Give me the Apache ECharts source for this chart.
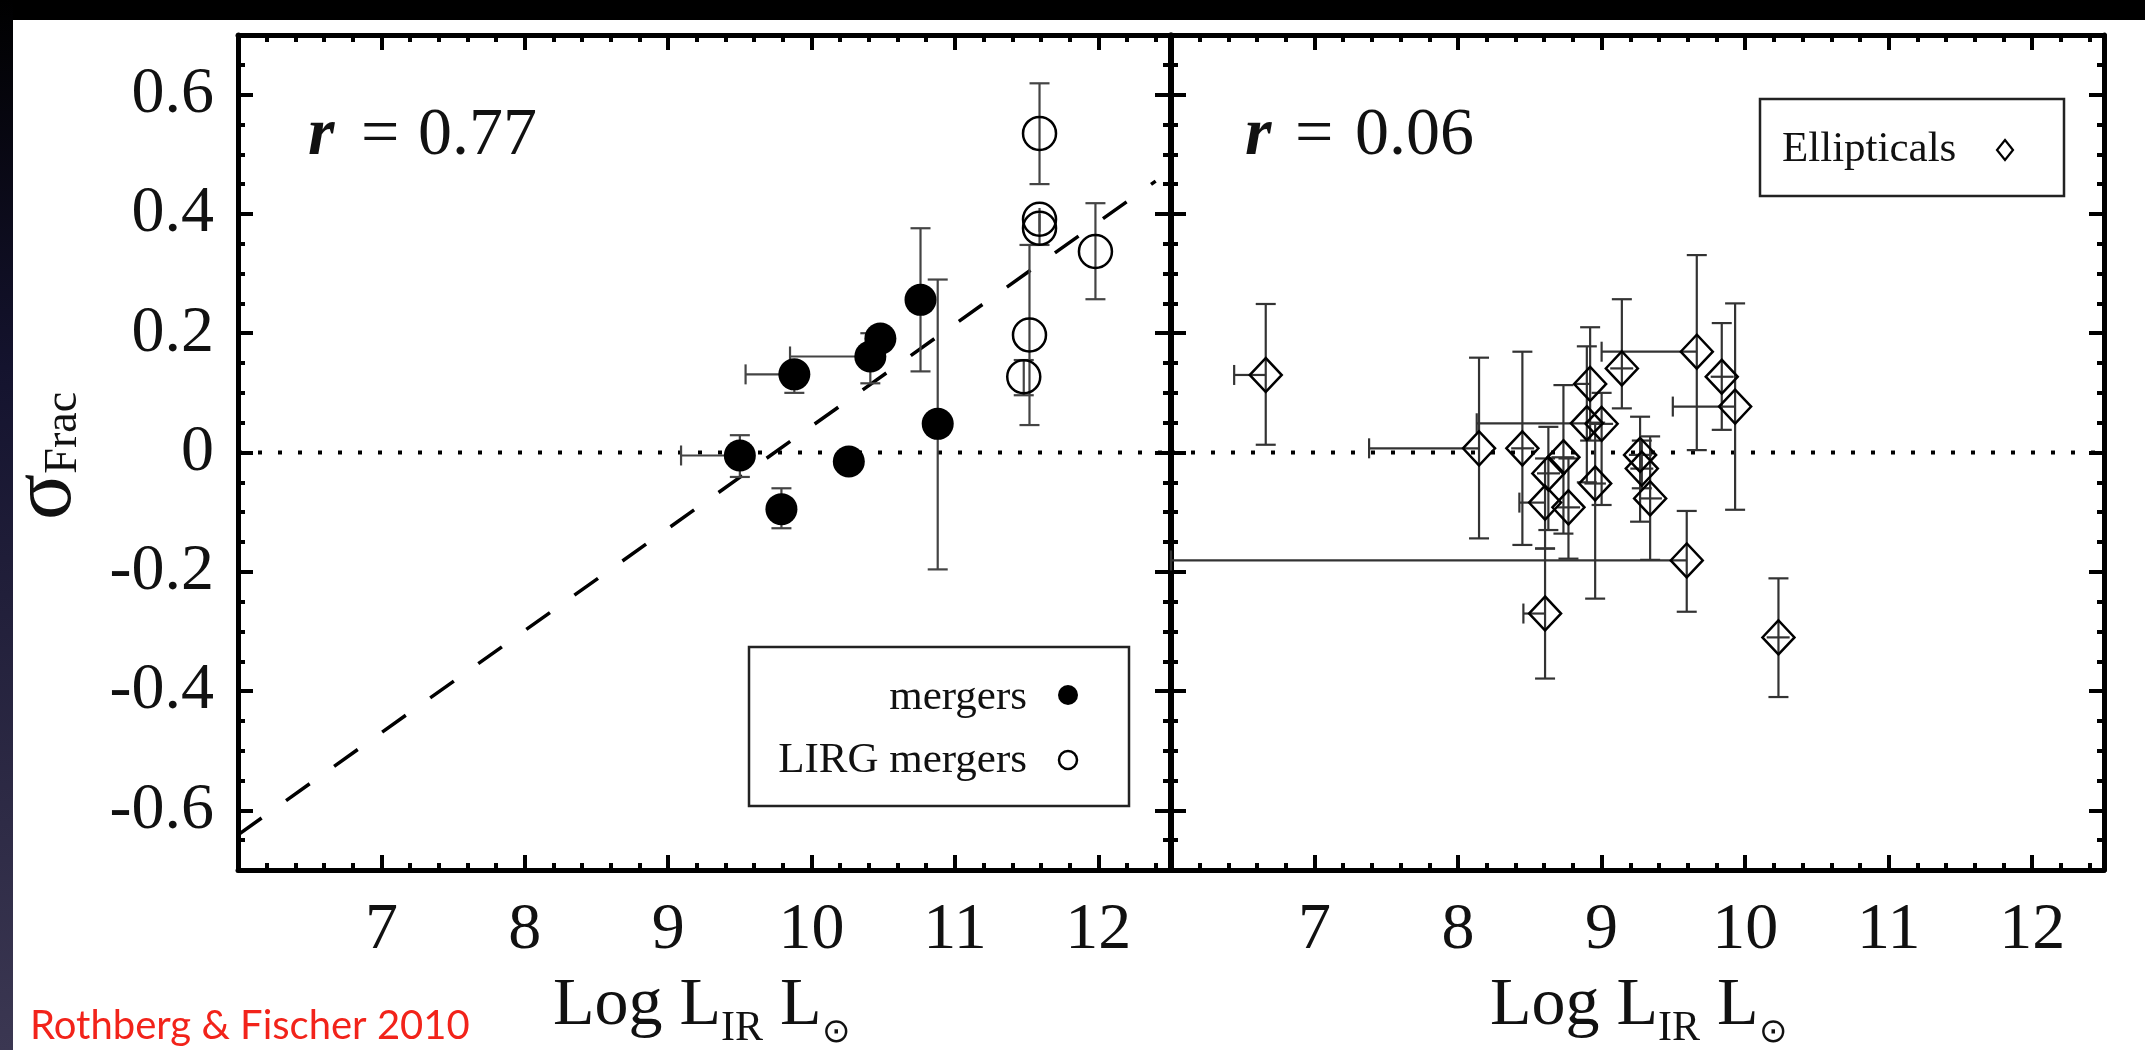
<!DOCTYPE html>
<html>
<head>
<meta charset="utf-8">
<script src="https://cdn.jsdelivr.net/npm/echarts@6/dist/echarts.min.js"></script>
<style>
  html, body { margin: 0; padding: 0; background: #fff; }
  #chart { width: 2145px; height: 1050px; }
</style>
</head>
<body>
<div id="chart"></div>
<script>
// ---- axis ranges and tick labels ----
const X_MIN = 6, X_MAX = 12.5, Y_MIN = -0.7, Y_MAX = 0.7;
const xTickLabels = [7, 8, 9, 10, 11, 12];
const yTickLabels = [-0.6, -0.4, -0.2, 0, 0.2, 0.4, 0.6];

// ---- mergers (filled circles) ----
const mergersX     = [9.50, 9.79, 9.88, 10.41, 10.48, 10.76, 10.26, 10.88];
const mergersY     = [-0.005, -0.095, 0.131, 0.161, 0.191, 0.256, -0.015, 0.048];
const mergersYLow  = [-0.041, -0.127, 0.100, 0.116, 0.170, 0.136, -0.035, -0.196];
const mergersYHigh = [0.029, -0.060, 0.150, 0.200, 0.210, 0.376, 0.005, 0.290];
const mergersXLow  = [9.09, null, 9.54, 9.85, null, null, null, null];
const mergersXHigh = [null, null, null, null, null, null, null, null];

// ---- LIRG mergers (open circles) ----
const lirgX     = [11.59, 11.59, 11.59, 11.98, 11.52, 11.48];
const lirgY     = [0.535, 0.391, 0.376, 0.337, 0.197, 0.127];
const lirgYLow  = [0.450, 0.370, 0.348, 0.257, 0.046, 0.096];
const lirgYHigh = [0.619, 0.410, 0.400, 0.418, 0.348, 0.155];

// ---- ellipticals (open diamonds) ----
const ellX     = [6.66, 8.146, 8.448, 8.734, 8.629, 8.606, 8.769, 8.920, 9.141, 9.663, 9.837,
                  9.930, 8.897, 9.000, 8.955, 9.268, 9.280, 9.338, 9.593, 8.606, 10.232];
const ellY     = [0.130, 0.007, 0.007, -0.008, -0.035, -0.084, -0.092, 0.115, 0.141, 0.169, 0.127,
                  0.077, 0.049, 0.048, -0.052, -0.004, -0.027, -0.077, -0.181, -0.270, -0.310];
const ellYLow  = [0.013, -0.144, -0.155, -0.136, -0.130, -0.161, -0.178, 0.020, 0.074, 0.004, 0.038,
                  -0.096, -0.050, -0.088, -0.245, -0.116, -0.060, -0.180, -0.267, -0.379, -0.410];
const ellYHigh = [0.249, 0.159, 0.169, 0.113, 0.043, -0.010, -0.010, 0.210, 0.257, 0.331, 0.217,
                  0.250, 0.178, 0.100, 0.050, 0.060, 0.020, 0.027, -0.098, -0.161, -0.211];
const ellXLow  = [6.44, 7.38, 8.37, 8.65, 8.55, 8.427, 8.69, 8.816, 9.06, 9.00, 9.76,
                  9.496, 8.13, 8.92, 8.88, 9.19, 9.20, 9.26, 6.00, 8.455, 10.15];
const ellXHigh = [null, null, 8.53, 8.81, 8.71, null, 8.85, null, 9.22, null, 9.92,
                  null, null, 9.08, 9.03, 9.35, 9.36, 9.42, null, null, 10.31];

// ---- reference lines ----
const zeroLineX = [6, 12.5];
const fitLineX = [6.0, 12.4];
const fitLineY = [-0.641, 0.455];

// ---- derived tick positions ----
const xMinorTicks = [];
for (let i = 1; i < 33; i++) {
  const v = +(X_MIN + i * 0.2).toFixed(2);
  if (Math.abs(v - Math.round(v)) > 1e-6) xMinorTicks.push(v);
}
const yMinorTicks = [];
for (let i = -13; i <= 13; i++) {
  if (i % 4 !== 0) yMinorTicks.push(+(i * 0.05).toFixed(2));
}

const SERIF = '"Liberation Serif", "Times New Roman", serif';

function rows(xs, ys, xl, xh, yl, yh) {
  return xs.map((x, i) => [
    x, ys[i],
    xl && xl[i] != null ? xl[i] : x,
    xh && xh[i] != null ? xh[i] : x,
    yl && yl[i] != null ? yl[i] : ys[i],
    yh && yh[i] != null ? yh[i] : ys[i]
  ]);
}

// ---- frame axes: thick box with inward major/minor ticks on all sides ----
const frameLine = { show: true, onZero: false, lineStyle: { color: '#000', width: 5 } };
function majorTick(vals) {
  return { show: true, inside: true, length: 15, customValues: vals, lineStyle: { color: '#000', width: 4 } };
}
function minorTick(vals) {
  return { show: true, inside: true, length: 7, customValues: vals, lineStyle: { color: '#000', width: 4 } };
}
function xAxesFor(grid) {
  const base = { gridIndex: grid, type: 'value', min: X_MIN, max: X_MAX, splitLine: { show: false }, axisPointer: { show: false } };
  return [
    Object.assign({}, base, {
      position: 'bottom', axisLine: frameLine, axisTick: majorTick(xTickLabels),
      axisLabel: { show: true, customValues: xTickLabels, fontFamily: SERIF, fontSize: 66, color: '#111', margin: 28 }
    }),
    Object.assign({}, base, { position: 'bottom', axisLine: { show: false, onZero: false }, axisTick: minorTick(xMinorTicks), axisLabel: { show: false } }),
    Object.assign({}, base, { position: 'top', axisLine: frameLine, axisTick: majorTick(xTickLabels), axisLabel: { show: false } }),
    Object.assign({}, base, { position: 'top', axisLine: { show: false, onZero: false }, axisTick: minorTick(xMinorTicks), axisLabel: { show: false } })
  ];
}
function yAxesFor(grid, labels) {
  const base = { gridIndex: grid, type: 'value', min: Y_MIN, max: Y_MAX, splitLine: { show: false }, axisPointer: { show: false } };
  return [
    Object.assign({}, base, {
      position: 'left', axisLine: frameLine, axisTick: majorTick(yTickLabels),
      axisLabel: labels
        ? { show: true, customValues: yTickLabels, fontFamily: SERIF, fontSize: 66, color: '#111', margin: 24,
            formatter: v => String(Math.round(v * 10) / 10) }
        : { show: false }
    }),
    Object.assign({}, base, { position: 'left', axisLine: { show: false, onZero: false }, axisTick: minorTick(yMinorTicks), axisLabel: { show: false } }),
    Object.assign({}, base, { position: 'right', axisLine: frameLine, axisTick: majorTick(yTickLabels), axisLabel: { show: false } }),
    Object.assign({}, base, { position: 'right', axisLine: { show: false, onZero: false }, axisTick: minorTick(yMinorTicks), axisLabel: { show: false } })
  ];
}

// ---- error bars: [x, y, xLow, xHigh, yLow, yHigh] ----
function errorBars(markerHalf, color) {
  return function (params, api) {
    const c = api.coord([api.value(0), api.value(1)]);
    const pxl = api.coord([api.value(2), api.value(1)])[0];
    const pxh = api.coord([api.value(3), api.value(1)])[0];
    const pyl = api.coord([api.value(0), api.value(4)])[1];
    const pyh = api.coord([api.value(0), api.value(5)])[1];
    const cap = 10;
    const segs = [];
    if (Math.abs(pyl - pyh) > 0.5) {
      segs.push([c[0], pyl, c[0], pyh]);
      if (pyl - c[1] > markerHalf) segs.push([c[0] - cap, pyl, c[0] + cap, pyl]);
      if (c[1] - pyh > markerHalf) segs.push([c[0] - cap, pyh, c[0] + cap, pyh]);
    }
    if (Math.abs(pxh - pxl) > 0.5) {
      segs.push([pxl, c[1], pxh, c[1]]);
      if (c[0] - pxl > markerHalf) segs.push([pxl, c[1] - cap, pxl, c[1] + cap]);
      if (pxh - c[0] > markerHalf) segs.push([pxh, c[1] - cap, pxh, c[1] + cap]);
    }
    return {
      type: 'group',
      children: segs.map(s => ({
        type: 'line',
        shape: { x1: s[0], y1: s[1], x2: s[2], y2: s[3] },
        style: { stroke: color, lineWidth: 2.2 }
      }))
    };
  };
}

// ---- text helpers for labels with subscripts ----
const measureCtx = document.createElement('canvas').getContext('2d');
function fontStr(size, weight, style) {
  return (style || 'normal') + ' ' + (weight || 'normal') + ' ' + size + 'px ' + SERIF;
}
function textWidth(text, font) { measureCtx.font = font; return measureCtx.measureText(text).width; }
// pieces laid out left to right on a shared baseline; each may be shifted by dy
function textRun(x0, baseline, pieces, fill) {
  let x = x0;
  const out = [];
  pieces.forEach(p => {
    const font = fontStr(p.size, p.weight, p.style);
    if (p.at != null) x = x0 + p.at;
    out.push({
      type: 'text', x: x, y: baseline + (p.dy || 0) - 0.305 * p.size,
      style: { text: p.text, font: font, fill: fill || '#111', align: 'left', verticalAlign: 'middle' }
    });
    x += textWidth(p.text, font);
  });
  return out;
}

const xTitlePieces = [
  { text: 'Log ', size: 68 }, { text: 'L', size: 68 }, { text: 'IR', size: 42, dy: 15 },
  { text: ' L', size: 68 }, { text: '\u2299', size: 34, dy: 16 }
];

const graphics = [
  // page backdrop: black band along the top, dark strip down the left edge
  { type: 'rect', z: -10, shape: { x: 0, y: 0, width: 2145, height: 20 }, style: { fill: '#000' } },
  { type: 'rect', z: -10, shape: { x: 0, y: 0, width: 13, height: 1050 },
    style: { fill: new echarts.graphic.LinearGradient(0, 0, 0, 1, [
      { offset: 0, color: '#000000' }, { offset: 0.35, color: '#14132e' }, { offset: 1, color: '#3b3752' }]) } },

  // legend, left panel
  { type: 'rect', z: 50, shape: { x: 749, y: 647, width: 380, height: 159 },
    style: { fill: '#fff', stroke: '#222', lineWidth: 2.5 } },
  { type: 'text', z: 51, x: 1027, y: 711 - 0.305 * 43,
    style: { text: 'mergers', font: fontStr(43), fill: '#111', align: 'right', verticalAlign: 'middle' } },
  { type: 'text', z: 51, x: 1027, y: 774 - 0.305 * 43,
    style: { text: 'LIRG mergers', font: fontStr(43), fill: '#111', align: 'right', verticalAlign: 'middle' } },
  { type: 'circle', z: 51, shape: { cx: 1068, cy: 695, r: 10 }, style: { fill: '#000' } },
  { type: 'circle', z: 51, shape: { cx: 1068, cy: 760, r: 9 }, style: { fill: 'none', stroke: '#000', lineWidth: 2.5 } },

  // legend, right panel
  { type: 'rect', z: 50, shape: { x: 1760, y: 99, width: 304, height: 97 },
    style: { fill: '#fff', stroke: '#222', lineWidth: 2.5 } },
  { type: 'text', z: 51, x: 1782, y: 163 - 0.305 * 43,
    style: { text: 'Ellipticals', font: fontStr(43), fill: '#111', align: 'left', verticalAlign: 'middle' } },
  { type: 'polygon', z: 51, shape: { points: [[2005, 140], [2013, 150], [2005, 160], [1997, 150]] },
    style: { fill: 'none', stroke: '#000', lineWidth: 2.2 } },

  // correlation coefficients
  ...textRun(308, 157, [{ text: 'r', size: 68, weight: 'bold', style: 'italic' },
                        { text: '=', size: 68, at: 53 }, { text: '0.77', size: 68, at: 110 }]),
  ...textRun(1245, 157, [{ text: 'r', size: 68, weight: 'bold', style: 'italic' },
                         { text: '=', size: 68, at: 50 }, { text: '0.06', size: 68, at: 110 }]),

  // x-axis titles
  ...textRun(553, 1027, xTitlePieces),
  ...textRun(1490, 1027, xTitlePieces),

  // y-axis title, reading bottom to top
  { type: 'group', x: 74, y: 520, rotation: Math.PI / 2,
    children: textRun(0, 0, [{ text: '\u03c3', size: 86 }, { text: 'Frac', size: 46, dy: 4 }]) },

  // citation
  { type: 'text', x: 30, y: 1038 - 0.305 * 40,
    style: { text: 'Rothberg & Fischer 2010', font: '40px "Comic Sans MS", "Lato", sans-serif', fill: '#f2231a',
             align: 'left', verticalAlign: 'middle' } }
];

const chart = echarts.init(document.getElementById('chart'), null, { renderer: 'canvas' });
chart.setOption({
  backgroundColor: '#ffffff',
  animation: false,
  grid: [
    { left: 238, top: 35, width: 932, height: 835, containLabel: false },
    { left: 1171, top: 35, width: 933, height: 835, containLabel: false }
  ],
  xAxis: [...xAxesFor(0), ...xAxesFor(1)],
  yAxis: [...yAxesFor(0, true), ...yAxesFor(1, false)],
  graphic: graphics,
  series: [
    { type: 'line', xAxisIndex: 0, yAxisIndex: 0, data: zeroLineX.map(x => [x, 0]), symbol: 'none', silent: true,
      lineStyle: { color: '#000', width: 4, type: [4, 16], cap: 'butt' }, z: 1 },
    { type: 'line', xAxisIndex: 4, yAxisIndex: 4, data: zeroLineX.map(x => [x, 0]), symbol: 'none', silent: true,
      lineStyle: { color: '#000', width: 4, type: [4, 16], cap: 'butt' }, z: 1 },
    { type: 'line', xAxisIndex: 0, yAxisIndex: 0, data: fitLineX.map((x, i) => [x, fitLineY[i]]), symbol: 'none', silent: true,
      lineStyle: { color: '#000', width: 3.5, type: [29, 30], cap: 'butt' }, z: 2 },

    { type: 'custom', xAxisIndex: 0, yAxisIndex: 0, renderItem: errorBars(15, '#444'), silent: true, z: 3,
      data: rows(mergersX, mergersY, mergersXLow, mergersXHigh, mergersYLow, mergersYHigh) },
    { type: 'custom', xAxisIndex: 0, yAxisIndex: 0, renderItem: errorBars(16, '#444'), silent: true, z: 3,
      data: rows(lirgX, lirgY, null, null, lirgYLow, lirgYHigh) },
    { type: 'custom', xAxisIndex: 4, yAxisIndex: 4, renderItem: errorBars(15, '#333'), silent: true, z: 3,
      data: rows(ellX, ellY, ellXLow, ellXHigh, ellYLow, ellYHigh) },

    { name: 'mergers', type: 'scatter', xAxisIndex: 0, yAxisIndex: 0, symbol: 'circle', symbolSize: 32, z: 4,
      itemStyle: { color: '#000', opacity: 1 }, emphasis: { disabled: true }, data: mergersX.map((x, i) => [x, mergersY[i]]) },
    { name: 'LIRG mergers', type: 'scatter', xAxisIndex: 0, yAxisIndex: 0, symbol: 'circle', symbolSize: 33, z: 4,
      itemStyle: { color: 'rgba(0,0,0,0)', borderColor: '#000', borderWidth: 2.5, opacity: 1 }, emphasis: { disabled: true },
      data: lirgX.map((x, i) => [x, lirgY[i]]) },
    { name: 'Ellipticals', type: 'scatter', xAxisIndex: 4, yAxisIndex: 4, symbol: 'diamond', symbolSize: [32, 34], z: 4,
      itemStyle: { color: 'rgba(0,0,0,0)', borderColor: '#000', borderWidth: 2.5, opacity: 1 }, emphasis: { disabled: true },
      data: ellX.map((x, i) => [x, ellY[i]]) }
  ]
});
</script>
</body>
</html>
